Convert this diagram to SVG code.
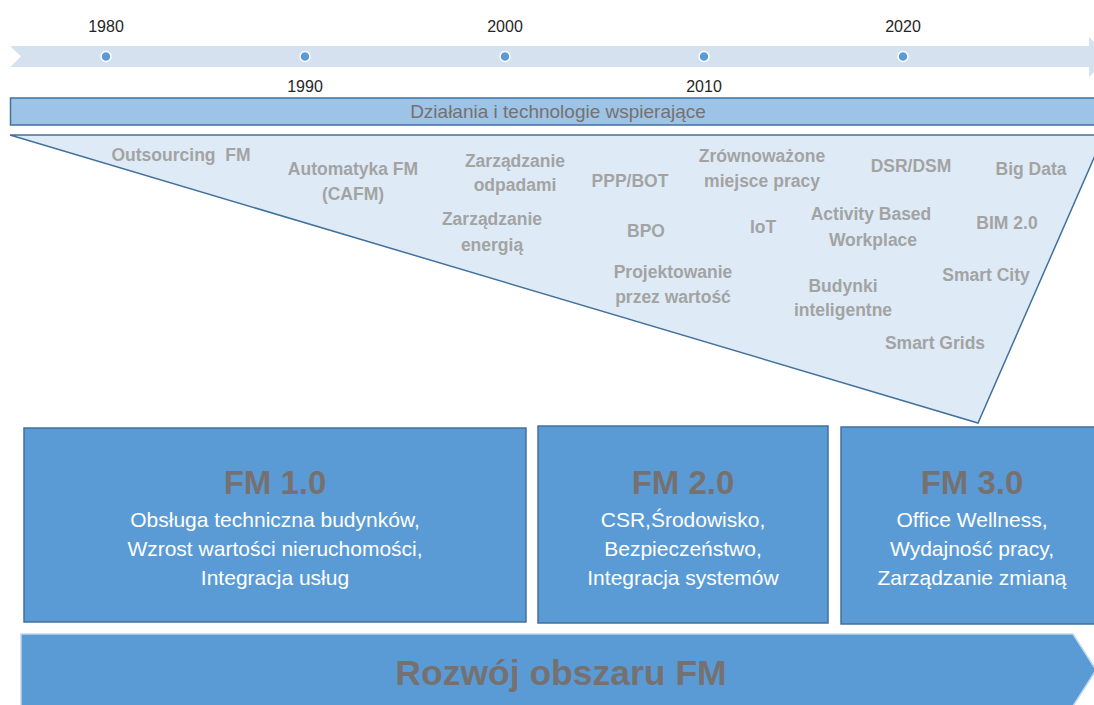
<svg xmlns="http://www.w3.org/2000/svg" width="1094" height="705" viewBox="0 0 1094 705">
<style>
.yr{font-family:"Liberation Sans",Arial,sans-serif;font-size:16px;fill:#262626;text-anchor:middle}
.dot{fill:#5b9bd5;stroke:#ffffff;stroke-width:1.5}
.tech{font-family:"Liberation Sans",Arial,sans-serif;font-size:17.5px;font-weight:bold;fill:#a3a3a3;text-anchor:middle}
.box{fill:#5b9bd5;stroke:#41719c;stroke-width:1.5}
.ttl{font-family:"Liberation Sans",Arial,sans-serif;font-size:33px;font-weight:bold;fill:#767171;text-anchor:middle}
.body{font-family:"Liberation Sans",Arial,sans-serif;font-size:21px;fill:#ffffff;text-anchor:middle}
</style>
<rect width="1094" height="705" fill="#ffffff"/>
<g id="timeline">
<polygon points="10,46 1089,46 1089,37 1110,57 1089,77 1089,67 10,67 21,56.5" fill="#d6e1f0"/>
<circle class="dot" cx="106" cy="56.5" r="5"/>
<circle class="dot" cx="305" cy="56.5" r="5"/>
<circle class="dot" cx="505" cy="56.5" r="5"/>
<circle class="dot" cx="704" cy="56.5" r="5"/>
<circle class="dot" cx="903" cy="56.5" r="5"/>
<text class="yr" x="106" y="32">1980</text>
<text class="yr" x="505" y="32">2000</text>
<text class="yr" x="903" y="32">2020</text>
<text class="yr" x="305" y="92">1990</text>
<text class="yr" x="704" y="92">2010</text>
</g>
<g id="support-bar">
<rect x="10.5" y="98" width="1095" height="27" fill="#9dc3e6" stroke="#41719c" stroke-width="1.5"/>
<text x="558" y="118" font-family="'Liberation Sans',Arial,sans-serif" font-size="19" fill="#767171" text-anchor="middle">Działania i technologie wspierające</text>
</g>
<g id="technologies">
<polygon points="10,135 1104,135 978,423" fill="#deebf7" stroke="#41719c" stroke-width="1.5" stroke-linejoin="miter"/>
<text class="tech" x="181" y="161">Outsourcing&#160; FM</text>
<text class="tech" x="353" y="175">Automatyka FM</text>
<text class="tech" x="353" y="200">(CAFM)</text>
<text class="tech" x="515" y="167">Zarządzanie</text>
<text class="tech" x="515" y="191">odpadami</text>
<text class="tech" x="492" y="225">Zarządzanie</text>
<text class="tech" x="492" y="251">energią</text>
<text class="tech" x="630" y="187">PPP/BOT</text>
<text class="tech" x="762" y="162">Zrównoważone</text>
<text class="tech" x="762" y="187">miejsce pracy</text>
<text class="tech" x="911" y="172">DSR/DSM</text>
<text class="tech" x="1031" y="175">Big Data</text>
<text class="tech" x="646" y="237">BPO</text>
<text class="tech" x="763" y="233">IoT</text>
<text class="tech" x="871" y="220">Activity Based</text>
<text class="tech" x="873" y="246">Workplace</text>
<text class="tech" x="1007" y="229">BIM 2.0</text>
<text class="tech" x="673" y="278">Projektowanie</text>
<text class="tech" x="673" y="303">przez wartość</text>
<text class="tech" x="986" y="281">Smart City</text>
<text class="tech" x="843" y="292">Budynki</text>
<text class="tech" x="843" y="316">inteligentne</text>
<text class="tech" x="935" y="349">Smart Grids</text>
</g>
<g id="fm1">
<rect class="box" x="24" y="428" width="502" height="194"/>
<text class="ttl" x="275" y="494">FM 1.0</text>
<text class="body" x="275" y="527">Obsługa techniczna budynków,</text>
<text class="body" x="275" y="556">Wzrost wartości nieruchomości,</text>
<text class="body" x="275" y="585">Integracja usług</text>
</g>
<g id="fm2">
<rect class="box" x="538" y="426" width="290" height="197"/>
<text class="ttl" x="683" y="494">FM 2.0</text>
<text class="body" x="683" y="527">CSR,Środowisko,</text>
<text class="body" x="683" y="556">Bezpieczeństwo,</text>
<text class="body" x="683" y="585">Integracja systemów</text>
</g>
<g id="fm3">
<rect class="box" x="841" y="427" width="270" height="197"/>
<text class="ttl" x="972" y="494">FM 3.0</text>
<text class="body" x="972" y="527">Office Wellness,</text>
<text class="body" x="972" y="556">Wydajność pracy,</text>
<text class="body" x="972" y="585">Zarządzanie zmianą</text>
</g>
<g id="development">
<polygon points="21,634 1073,634 1096,670 1073,706 21,706" fill="#5b9bd5" stroke="#bdd7ee" stroke-width="1.5"/>
<text x="561" y="685" font-family="'Liberation Sans',Arial,sans-serif" font-size="35.5" font-weight="bold" fill="#767171" text-anchor="middle">Rozwój obszaru FM</text>
</g>
<g id="connectors"></g>
</svg>
